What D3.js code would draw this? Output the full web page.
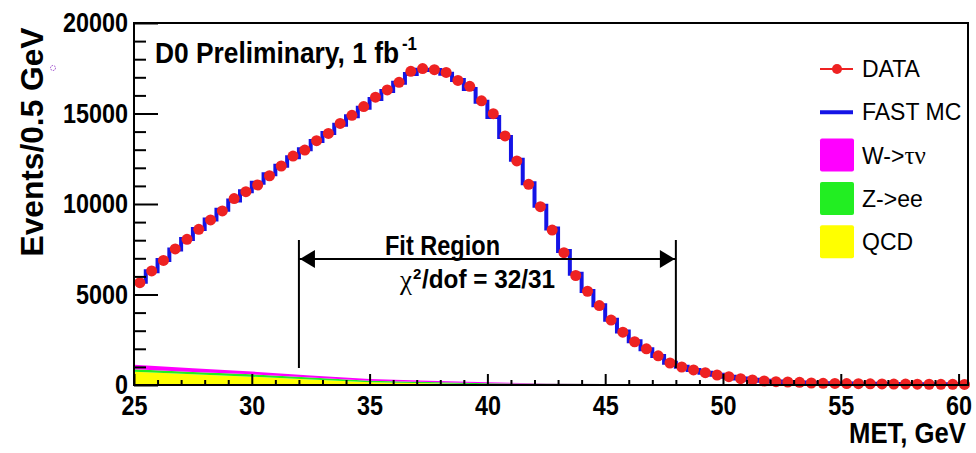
<!DOCTYPE html>
<html lang="en">
<head>
<meta charset="UTF-8" />
<title>MET</title>
<script src="https://cdn.jsdelivr.net/npm/d3@7"></script>
<style>
  html, body { margin: 0; padding: 0; background: #fff; }
  svg { display: block; }
</style>
</head>
<body>
<script>
// bins of 0.5 GeV from 25 to 60.5
const binWidth = 0.5;
const binCenters = d3.range(25.25, 60.5, binWidth);

const dataCounts = [
  5650, 6300, 6880, 7520, 8050, 8600, 9120, 9620, 10300, 10680,
  11050, 11560, 12100, 12650, 12980, 13500, 13900, 14450, 14900, 15380,
  15900, 16300, 16720, 17330, 17480, 17420, 17270, 16830, 16500, 15700,
  14990, 13760, 12380, 11090, 9850, 8560, 7310, 6050, 5180, 4390,
  3590, 2920, 2390, 2000, 1610, 1215, 995, 830, 680, 553,
  459, 348, 276, 221, 182, 166, 150, 110, 95, 85,
  78, 70, 64, 58, 54, 50, 46, 42, 39, 36, 33
];

const mcCounts = [
  5700, 6280, 6900, 7480, 8070, 8620, 9150, 9680, 10200, 10700,
  11180, 11650, 12120, 12580, 13030, 13480, 13920, 14380, 14850, 15320,
  15800, 16250, 16700, 17180, 17420, 17400, 17200, 16850, 16350, 15650,
  14800, 13700, 12450, 11150, 9900, 8650, 7400, 6150, 5200, 4400,
  3600, 2950, 2420, 1980, 1600, 1230, 1010, 830, 680, 560,
  460, 360, 285, 230, 190, 165, 145, 115, 100, 88,
  80, 72, 65, 59, 54, 50, 46, 42, 39, 36, 33
];

// backgrounds (stacked), read at a few MET values
const bgMet = [25, 27.5, 30, 32.5, 35, 37.5, 40, 42.5, 45, 47.5, 50, 55, 60.4];
const qcd = [735, 590, 460, 300, 150, 90, 40, 25, 20, 15, 10, 5, 3];
const zee = [135, 135, 130, 110, 90, 75, 60, 45, 30, 20, 15, 8, 4];
const wtaunu = [245, 200, 155, 120, 85, 65, 50, 10, 3, 1, 0, 0, 0];

const yTicks = [0, 5000, 10000, 15000, 20000];
const xTicks = [25, 30, 35, 40, 45, 50, 55, 60];
const fitRange = [32, 48];

const width = 976, height = 453;
const sans = "'Liberation Sans', Arial, Helvetica, sans-serif";
const red = '#ee2222', blue = '#1414e6';

const x = d3.scaleLinear().domain([25, 60.4]).range([134, 968]);
const y = d3.scaleLinear().domain([0, 20000]).range([385, 23]);

const svg = d3.select('body').append('svg')
  .attr('width', width)
  .attr('height', height);

svg.append('clipPath').attr('id', 'plot')
  .append('rect')
  .attr('x', x(25)).attr('y', y(20000))
  .attr('width', x(60.4) - x(25)).attr('height', y(0) - y(20000));

// stacked backgrounds
const bgRows = bgMet.map((m, i) => ({ met: m, qcd: qcd[i], zee: zee[i], wtaunu: wtaunu[i] }));
const stack = d3.stack().keys(['qcd', 'zee', 'wtaunu'])(bgRows);
const bgColors = { qcd: '#ffff00', zee: '#22ee22', wtaunu: '#ff00ff' };
const area = d3.area()
  .x(d => x(d.data.met))
  .y0(d => y(d[0]))
  .y1(d => y(d[1]));

svg.append('g').selectAll('path')
  .data(stack)
  .join('path')
  .attr('d', area)
  .attr('fill', d => bgColors[d.key]);

// fast MC histogram
const mcSteps = mcCounts.map((v, i) => [binCenters[i] - binWidth / 2, v]);
mcSteps.push([binCenters[binCenters.length - 1] + binWidth / 2, mcCounts[mcCounts.length - 1]]);
const step = d3.line()
  .x(d => x(d[0]))
  .y(d => y(d[1]))
  .curve(d3.curveStepAfter);

svg.append('path')
  .datum(mcSteps)
  .attr('clip-path', 'url(#plot)')
  .attr('d', step)
  .attr('fill', 'none')
  .attr('stroke', blue)
  .attr('stroke-width', 4);

// data points
svg.append('g').selectAll('circle')
  .data(dataCounts)
  .join('circle')
  .attr('cx', (d, i) => x(binCenters[i]))
  .attr('cy', d => y(d))
  .attr('r', 5.5)
  .attr('fill', red);

// axes
const yMinor = d3.range(0, 20001, 1000).filter(v => v % 5000);
const xMinor = d3.range(25, 61, 1).filter(v => v % 5);

function styleTicks(g) {
  g.select('.domain').remove();
  g.selectAll('.tick line').attr('stroke', '#000').attr('stroke-width', 2);
}

function styleLabels(g) {
  g.selectAll('text')
    .attr('font-family', sans)
    .attr('font-weight', 'bold')
    .attr('font-size', 28)
    .attr('fill', '#000')
    .attr('textLength', function () { return 13 * this.textContent.length; })
    .attr('lengthAdjust', 'spacingAndGlyphs');
}

svg.append('g')
  .attr('transform', `translate(${x(25)},0)`)
  .call(d3.axisLeft(y).tickValues(yMinor).tickSize(-12).tickFormat(''))
  .call(styleTicks);

svg.append('g')
  .attr('transform', `translate(${x(25)},0)`)
  .call(d3.axisLeft(y).tickValues(yTicks).tickSize(-24).tickPadding(6).tickFormat(d3.format('d')))
  .call(styleTicks)
  .call(styleLabels);

svg.append('g')
  .attr('transform', `translate(0,${y(0)})`)
  .call(d3.axisBottom(x).tickValues(xMinor).tickSize(-5).tickFormat(''))
  .call(styleTicks);

svg.append('g')
  .attr('transform', `translate(0,${y(0)})`)
  .call(d3.axisBottom(x).tickValues(xTicks).tickSize(-11).tickPadding(10).tickFormat(d3.format('d')))
  .call(styleTicks)
  .call(styleLabels);

// frame
svg.append('rect')
  .attr('x', x(25)).attr('y', y(20000))
  .attr('width', x(60.4) - x(25)).attr('height', y(0) - y(20000))
  .attr('fill', 'none')
  .attr('stroke', '#000')
  .attr('stroke-width', 2);

// axis titles
svg.append('text')
  .attr('transform', 'translate(43,142) rotate(-90)')
  .attr('text-anchor', 'middle')
  .attr('font-family', sans).attr('font-weight', 'bold').attr('font-size', 31)
  .attr('textLength', 229).attr('lengthAdjust', 'spacingAndGlyphs')
  .text('Events/0.5 GeV');

svg.append('text')
  .attr('x', 966).attr('y', 443)
  .attr('text-anchor', 'end')
  .attr('font-family', sans).attr('font-weight', 'bold').attr('font-size', 30)
  .attr('textLength', 117).attr('lengthAdjust', 'spacingAndGlyphs')
  .text('MET, GeV');

// title
svg.append('text')
  .attr('x', 155).attr('y', 63)
  .attr('font-family', sans).attr('font-weight', 'bold').attr('font-size', 30)
  .attr('textLength', 244).attr('lengthAdjust', 'spacingAndGlyphs')
  .text('D0 Preliminary, 1 fb');
svg.append('text')
  .attr('x', 402).attr('y', 50)
  .attr('font-family', sans).attr('font-weight', 'bold').attr('font-size', 18)
  .attr('textLength', 15).attr('lengthAdjust', 'spacingAndGlyphs')
  .text('-1');

// fit region annotation
const fit = svg.append('g').attr('stroke', '#000').attr('stroke-width', 2);
fitRange.forEach(m => {
  fit.append('line')
    .attr('x1', x(m)).attr('x2', x(m))
    .attr('y1', 240).attr('y2', 368);
});
fit.append('line')
  .attr('x1', x(fitRange[0])).attr('x2', x(fitRange[1]))
  .attr('y1', 259).attr('y2', 259);
svg.append('path')
  .attr('d', `M${x(fitRange[0]) + 1},259 L${x(fitRange[0]) + 16},250 L${x(fitRange[0]) + 16},268 Z`)
  .attr('fill', '#000');
svg.append('path')
  .attr('d', `M${x(fitRange[1]) - 1},259 L${x(fitRange[1]) - 16},250 L${x(fitRange[1]) - 16},268 Z`)
  .attr('fill', '#000');

svg.append('text')
  .attr('x', 385).attr('y', 255)
  .attr('font-family', sans).attr('font-weight', 'bold').attr('font-size', 27)
  .attr('textLength', 115).attr('lengthAdjust', 'spacingAndGlyphs')
  .text('Fit Region');
svg.append('text')
  .attr('x', 400).attr('y', 289)
  .attr('font-family', "'Liberation Serif', serif").attr('font-size', 27)
  .text('\u03c7');
svg.append('text')
  .attr('x', 413).attr('y', 279)
  .attr('font-family', sans).attr('font-weight', 'bold').attr('font-size', 15)
  .text('2');
svg.append('text')
  .attr('x', 422).attr('y', 288)
  .attr('font-family', sans).attr('font-weight', 'bold').attr('font-size', 26)
  .attr('textLength', 133).attr('lengthAdjust', 'spacingAndGlyphs')
  .text('/dof = 32/31');

// legend
const legendItems = [
  { label: 'DATA', kind: 'marker', color: red },
  { label: 'FAST MC', kind: 'line', color: blue },
  { label: 'W->', greek: '\u03c4\u03bd', kind: 'box', color: bgColors.wtaunu },
  { label: 'Z->ee', kind: 'box', color: bgColors.zee },
  { label: 'QCD', kind: 'box', color: bgColors.qcd }
];

const legend = svg.append('g');
legendItems.forEach((item, i) => {
  const cy = 69 + i * 43.3;
  const g = legend.append('g');
  if (item.kind === 'marker') {
    g.append('line').attr('x1', 820).attr('x2', 853).attr('y1', cy).attr('y2', cy)
      .attr('stroke', item.color).attr('stroke-width', 2);
    g.append('circle').attr('cx', 837).attr('cy', cy).attr('r', 5).attr('fill', item.color);
  } else if (item.kind === 'line') {
    g.append('line').attr('x1', 820).attr('x2', 853).attr('y1', cy).attr('y2', cy)
      .attr('stroke', item.color).attr('stroke-width', 4);
  } else {
    g.append('rect').attr('x', 820).attr('y', cy - 17).attr('width', 34).attr('height', 33)
      .attr('rx', 2).attr('fill', item.color);
  }
  const t = g.append('text')
    .attr('x', 862).attr('y', cy + 8)
    .attr('font-family', sans).attr('font-size', 23)
    .text(item.label);
  if (item.greek) {
    t.append('tspan').attr('font-family', "'Liberation Serif', serif").attr('font-size', 25)
      .text(item.greek);
  }
});

// small stray mark near the axis title
svg.append('circle')
  .attr('cx', 53).attr('cy', 68).attr('r', 2.5)
  .attr('fill', 'none').attr('stroke', '#9944cc').attr('stroke-width', 1)
  .attr('stroke-dasharray', '1.5,1');
</script>
</body>
</html>
